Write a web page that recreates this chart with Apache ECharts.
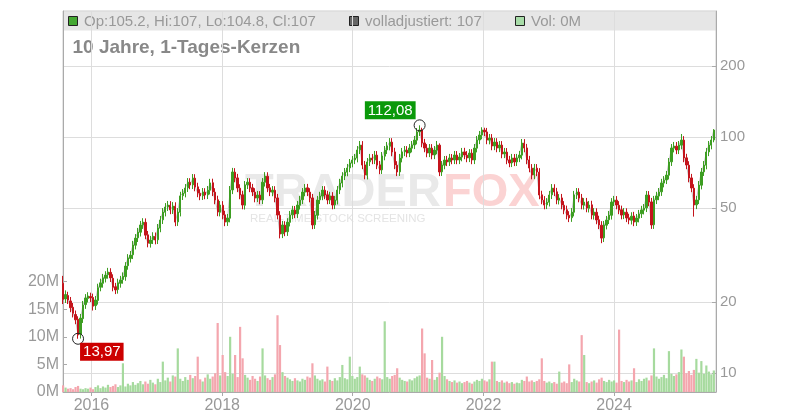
<!DOCTYPE html>
<html><head><meta charset="utf-8">
<script src="https://cdn.jsdelivr.net/npm/echarts@6/dist/echarts.min.js"></script>
<style>html,body{margin:0;padding:0;background:#fff}#c{width:800px;height:420px}</style>
</head><body><div id="c"></div>
<script>
// ---- data (2-week candles) ----
const startDate = Date.UTC(2015, 6, 26, 12);
const stepDays = 13.94;
const opens = [24.0,20.6,21.3,20.2,19.0,17.7,16.9,14.6,17.0,19.5,
20.7,21.1,20.9,19.3,20.3,23.1,24.0,25.2,26.1,26.7,
25.2,23.2,22.6,24.0,24.9,25.6,28.5,30.6,31.7,34.8,
37.4,39.5,42.5,43.5,38.5,35.4,36.7,37.9,36.7,41.1,
44.6,48.0,50.6,51.4,49.2,50.9,43.7,48.0,56.4,57.8,
60.9,64.3,62.7,66.9,61.5,57.8,56.4,58.4,56.9,59.5,
64.0,58.4,54.2,48.0,51.4,46.8,43.7,45.3,59.7,71.0,
67.1,60.7,56.9,51.4,62.7,64.3,60.9,58.4,55.2,56.7,
54.2,64.3,68.2,60.9,58.4,59.5,55.2,46.6,38.9,42.3,
39.7,43.5,46.8,49.0,47.3,51.4,54.2,58.4,60.9,58.4,
55.2,42.5,46.6,54.2,56.2,59.5,56.9,54.2,56.2,51.6,
54.0,59.7,63.8,68.4,71.0,74.0,77.5,80.0,81.4,88.2,
92.4,76.2,68.9,78.5,81.4,80.0,83.8,76.2,72.6,83.0,
88.2,91.5,95.1,86.5,76.0,71.2,81.4,86.5,88.0,85.6,
89.7,92.6,97.0,105.2,107.0,94.4,89.7,85.6,89.7,84.0,
88.0,92.4,71.2,76.0,80.0,78.5,81.4,80.0,83.8,80.0,
82.2,86.5,83.8,81.6,85.4,80.0,89.7,97.2,101.9,107.0,
105.1,97.0,98.9,91.7,95.1,89.9,92.4,84.8,86.3,80.0,
77.7,81.4,78.5,81.6,83.8,94.2,89.9,80.0,73.8,69.1,
73.8,71.0,56.9,54.0,51.6,52.9,56.9,60.7,58.6,54.0,
55.2,51.4,49.2,46.6,45.5,48.0,56.9,58.4,55.2,51.4,
53.1,49.9,51.6,46.6,48.0,44.6,42.3,37.4,42.3,44.6,
46.6,53.1,54.0,51.4,49.2,46.8,48.0,45.5,44.4,46.3,
43.7,45.3,47.3,49.0,50.1,56.7,53.1,42.5,54.2,56.2,
58.6,63.8,65.8,68.9,78.5,89.7,91.5,88.2,92.4,97.0,
81.6,76.0,67.1,60.7,51.6,54.2,62.5,71.2,76.0,86.5,
92.4,97.2];
const closes = [20.5,21.5,20.4,18.9,17.9,16.8,14.5,17.1,19.4,20.8,
21.2,20.8,19.2,20.4,23.0,24.1,25.3,26.0,26.8,25.3,
23.1,22.5,24.1,24.8,25.7,28.4,30.7,31.6,34.9,37.3,
39.6,42.4,43.6,38.4,35.5,36.6,38.0,36.6,41.2,44.5,
48.1,50.5,51.5,49.1,51.0,43.6,48.1,56.3,57.9,60.8,
64.4,62.6,67.0,61.4,57.9,56.3,58.5,56.8,59.6,63.9,
58.5,54.1,48.1,51.5,46.7,43.6,45.4,59.6,71.1,67.0,
60.8,56.8,51.5,62.6,64.4,60.8,58.5,55.1,56.8,54.1,
64.4,68.3,60.8,58.5,59.6,55.1,46.7,38.8,42.4,39.6,
43.6,46.7,49.1,47.2,51.5,54.1,58.5,60.8,58.5,55.1,
42.4,46.7,54.1,56.3,59.6,56.8,54.1,56.3,51.5,54.1,
59.6,63.9,68.3,71.1,73.9,77.6,79.9,81.5,88.1,92.5,
76.1,69.0,78.4,81.5,79.9,83.9,76.1,72.5,83.1,88.1,
91.6,95.2,86.4,76.1,71.1,81.5,86.4,88.1,85.5,89.8,
92.5,97.1,105.0,107.1,94.3,89.8,85.5,89.8,83.9,88.1,
92.5,71.1,76.1,79.9,78.4,81.5,79.9,83.9,79.9,82.3,
86.4,83.9,81.5,85.5,79.9,89.8,97.1,102.0,107.1,105.0,
97.1,99.0,91.6,95.2,89.8,92.5,84.7,86.4,79.9,77.6,
81.5,78.4,81.5,83.9,94.3,89.8,79.9,73.9,69.0,73.9,
71.1,56.8,54.1,51.5,53.0,56.8,60.8,58.5,54.1,55.1,
51.5,49.1,46.7,45.4,48.1,56.8,58.5,55.1,51.5,53.0,
50.0,51.5,46.7,48.1,44.5,42.4,37.3,42.4,44.5,46.7,
53.0,54.1,51.5,49.1,46.7,48.1,45.4,44.5,46.2,43.6,
45.4,47.2,49.1,50.0,56.8,53.0,42.4,54.1,56.3,58.5,
63.9,65.7,69.0,78.4,89.8,91.6,88.1,92.5,97.1,81.5,
76.1,67.0,60.8,51.5,54.1,62.6,71.1,76.1,86.4,92.5,
97.1,107.0];
const highs = [25.8,22.4,22.1,21.0,19.8,18.4,17.4,17.8,20.2,21.6,
22.0,21.9,21.7,21.2,23.9,25.1,26.3,27.0,27.9,27.8,
26.2,24.1,25.1,25.8,26.7,29.5,31.9,32.9,36.3,38.8,
41.2,44.1,45.3,45.2,40.0,38.1,39.5,39.4,42.8,46.3,
50.0,52.5,53.6,53.5,53.0,52.9,50.0,58.6,60.2,63.2,
67.0,66.9,69.7,69.6,64.0,60.1,60.8,60.7,62.0,66.5,
66.6,60.7,56.4,53.6,53.5,48.7,47.2,62.0,74.0,73.8,
69.8,63.1,59.2,65.1,67.0,66.9,63.3,60.7,59.1,59.0,
67.0,71.0,70.9,63.3,62.0,61.9,57.4,48.5,44.1,44.0,
45.3,48.6,51.1,51.0,53.6,56.3,60.8,63.2,63.3,60.7,
57.4,48.6,56.3,58.6,62.0,61.9,59.2,58.6,58.4,56.3,
62.0,66.5,71.0,73.9,76.9,80.7,83.1,84.8,91.6,96.2,
96.1,79.2,81.5,84.8,84.7,87.3,87.2,79.2,86.4,91.6,
95.3,99.0,98.9,90.0,79.0,84.8,89.9,91.6,91.5,93.4,
96.2,101.0,109.2,112.08,109.5,98.2,93.3,93.4,93.3,91.6,
96.2,94.0,79.1,83.1,83.2,84.8,84.7,87.3,87.2,85.6,
89.9,90.0,87.2,88.9,88.8,93.4,101.0,106.1,110.0,109.5,
109.3,103.0,102.9,99.0,98.9,96.2,96.1,89.9,89.8,83.2,
84.8,84.7,84.8,87.3,98.1,98.0,93.5,83.2,76.8,76.9,
76.8,73.8,59.2,56.2,55.1,59.1,63.2,63.1,60.9,57.3,
57.4,53.5,51.2,48.5,50.0,59.1,60.8,60.7,57.4,55.1,
55.2,53.6,53.7,50.0,49.9,46.4,44.0,44.1,46.3,48.6,
55.1,56.3,56.2,53.5,51.2,50.0,49.9,47.3,48.0,48.2,
47.2,49.1,51.1,52.0,59.1,59.0,55.2,56.3,58.6,60.8,
66.5,68.3,71.8,81.5,93.4,95.3,95.2,96.2,103.0,100.9,
84.9,79.0,69.8,63.1,56.3,65.1,73.9,79.1,89.9,96.2,
101.0,108.0];
const lows = [19.6,19.8,19.6,18.1,17.2,16.1,13.97,14.0,16.3,18.7,
19.9,20.0,18.4,18.5,19.5,22.2,23.0,24.2,25.1,24.3,
22.2,21.6,21.7,23.0,23.9,24.6,27.4,29.4,30.4,33.4,
35.9,37.9,40.8,36.9,34.1,34.0,35.2,35.1,35.2,39.5,
42.8,46.1,48.6,47.1,47.2,41.9,42.0,46.1,54.1,55.5,
58.5,60.1,60.2,58.9,55.6,54.0,54.1,54.5,54.6,57.1,
56.2,51.9,46.2,46.1,44.8,41.9,42.0,43.5,57.3,64.3,
58.4,54.5,49.4,49.3,60.2,58.4,56.2,52.9,53.0,51.9,
52.0,61.7,58.4,56.2,56.1,52.9,44.8,37.2,37.3,38.0,
38.1,41.8,44.9,45.3,45.4,49.3,52.0,56.1,56.2,52.9,
40.7,40.8,44.7,52.0,54.0,54.5,51.9,52.0,49.4,49.5,
51.8,57.3,61.2,65.7,68.2,71.0,74.4,76.8,78.1,84.7,
73.1,66.2,66.1,75.4,76.7,76.8,73.1,69.6,69.7,79.7,
84.7,87.8,82.9,73.1,68.3,68.4,78.1,83.0,82.1,82.2,
86.1,88.9,93.1,101.0,90.5,86.2,82.1,82.2,80.5,80.6,
84.5,68.3,68.4,73.0,75.3,75.4,76.7,76.8,76.7,76.8,
78.9,80.5,78.2,78.3,76.7,76.8,86.1,93.3,97.8,100.8,
93.2,93.1,87.9,88.0,86.2,86.3,81.3,81.4,76.7,74.5,
74.6,75.3,75.4,78.3,80.4,86.2,76.7,70.9,66.2,66.3,
68.3,54.5,51.9,49.4,49.5,50.8,54.6,56.2,51.9,51.8,
49.4,47.1,44.8,43.6,43.7,46.1,54.6,52.9,49.4,49.3,
48.0,47.9,44.8,44.7,42.7,40.7,35.5,35.9,40.6,42.8,
44.7,51.0,49.4,47.1,44.8,44.9,43.6,42.7,42.6,41.9,
42.0,43.5,45.4,47.0,48.1,50.9,40.8,40.8,52.0,54.0,
56.3,61.2,63.2,66.1,75.4,86.1,84.6,84.7,88.7,78.2,
73.1,64.3,58.4,46.0,49.5,52.0,60.0,68.4,73.0,83.0,
88.7,95.0];
const volumes = [1.2,0.8,0.6,0.7,0.5,0.9,1.1,0.6,0.5,0.7,
0.6,0.8,0.5,0.9,1.2,0.7,1.0,0.8,1.3,0.9,
1.1,1.4,0.9,1.2,5.2,1.0,1.5,1.2,1.8,1.3,
1.6,2.0,1.4,1.9,1.5,2.2,1.7,1.4,2.4,1.8,
5.5,2.1,2.6,1.9,3.0,2.8,7.9,2.4,2.0,2.7,
2.2,3.1,2.5,2.9,6.4,2.3,1.9,2.6,3.2,2.4,
2.8,3.4,12.5,3.0,6.7,3.6,2.9,10.0,3.3,6.7,
2.7,11.8,6.1,3.1,2.6,2.2,2.9,2.4,2.0,2.8,
7.9,3.0,2.5,2.2,2.7,3.2,13.9,8.5,3.6,2.9,
2.6,2.3,2.0,2.5,2.1,1.9,2.4,2.2,2.8,2.6,
5.2,3.0,2.4,2.1,2.3,1.9,4.6,2.2,2.0,2.5,
2.1,2.7,4.9,2.5,2.3,6.4,2.9,2.4,2.7,4.6,
3.2,3.0,2.6,2.2,2.0,2.4,2.8,2.5,2.3,12.8,
2.7,2.4,2.9,3.1,4.3,2.6,2.2,2.0,1.9,2.3,
2.1,2.5,2.8,3.0,11.5,7.0,2.6,2.4,5.8,2.2,
2.7,3.5,10.0,2.9,2.3,2.0,1.8,2.1,1.7,1.9,
1.6,1.8,2.0,1.7,1.5,1.9,2.2,2.0,2.4,2.1,
1.9,2.3,5.5,5.5,2.0,1.8,2.1,1.7,1.9,1.6,
1.8,1.5,1.7,1.6,2.2,2.0,2.8,1.9,2.1,1.8,
2.0,2.3,6.1,2.0,1.7,1.9,1.6,1.8,1.5,3.7,
1.7,1.9,1.6,5.0,1.8,2.4,2.1,1.9,10.3,6.7,
1.8,1.6,1.9,2.1,1.7,2.3,2.6,2.0,1.8,2.2,
1.9,2.1,1.7,11.3,2.0,1.8,2.2,1.9,2.1,4.3,
1.8,2.3,2.0,2.4,2.6,2.1,3.0,7.9,2.8,2.4,
2.7,3.1,2.5,7.4,3.3,2.9,3.2,3.6,7.7,6.4,
3.4,3.8,3.1,4.0,6.0,3.5,5.6,3.3,4.8,3.7,
3.2,3.9];
const yearTicks = [Date.UTC(2016,0,1), Date.UTC(2018,0,1), Date.UTC(2020,0,1), Date.UTC(2022,0,1), Date.UTC(2024,0,1)];
const priceTicks = [10, 20, 50, 100, 200];
const volTicks = [0, 5, 10, 15, 20];
const headerTexts = ['Op:105.2, Hi:107, Lo:104.8, Cl:107', 'volladjustiert: 107', 'Vol: 0M'];
const titleText = '10 Jahre, 1-Tages-Kerzen';

// ---- build ----
const FONT = 'Liberation Sans, Arial, sans-serif';
const UP = '#3d9e22', DOWN = '#c4141c';
const dates = closes.map((_, i) => startDate + i * stepDays * 86400000);
const candles = closes.map((c, i) => [dates[i], opens[i], c, lows[i], highs[i]]);
const closeLine = closes.map((c, i) => [dates[i], c]);
const volData = volumes.map((v, i) => ({
  value: [dates[i], v],
  itemStyle: { color: closes[i] >= opens[i] ? '#a6da9e' : '#f4a6ae' }
}));
let hiIdx = 0, loIdx = 0;
highs.forEach((h, i) => { if (h > highs[hiIdx]) hiIdx = i; });
lows.forEach((l, i) => { if (l < lows[loIdx]) loIdx = i; });
const fmt = v => v.toFixed(2).replace('.', ',');

const chart = echarts.init(document.getElementById('c'), null, { renderer: 'canvas' });
chart.setOption({
  animation: false,
  textStyle: { fontFamily: FONT },
  grid: { left: 63, right: 84, top: 11, bottom: 28, show: true, borderColor: '#cccccc', borderWidth: 1 },
  xAxis: {
    type: 'value',
    min: Date.UTC(2015, 6, 26),
    max: Date.UTC(2025, 6, 24),
    axisLine: { show: true, onZero: false, lineStyle: { color: '#aaaaaa' } },
    axisTick: { show: true, length: 4, customValues: yearTicks, lineStyle: { color: '#aaaaaa' } },
    axisLabel: { customValues: yearTicks, formatter: v => String(new Date(v).getUTCFullYear()),
      color: '#999999', fontSize: 16, margin: 6, fontFamily: FONT },
    splitLine: { show: true, lineStyle: { color: '#dddddd', width: 1 } }
  },
  yAxis: [
    {
      type: 'log', logBase: 10, position: 'right', min: 8.31, max: 342,
      axisLine: { show: true, lineStyle: { color: '#aaaaaa' } },
      axisTick: { show: true, inside: true, length: 4, customValues: priceTicks, lineStyle: { color: '#aaaaaa' } },
      axisLabel: { customValues: priceTicks, color: '#999999', fontSize: 15, margin: 4, fontFamily: FONT },
      splitLine: { show: true, lineStyle: { color: '#dddddd', width: 1 } }
    },
    {
      type: 'value', position: 'left', min: 0, max: 69,
      axisLine: { show: true, lineStyle: { color: '#aaaaaa' } },
      axisTick: { show: true, inside: true, length: 4, customValues: volTicks, lineStyle: { color: '#aaaaaa' } },
      axisLabel: { customValues: volTicks, formatter: v => v + 'M', color: '#999999', fontSize: 16, margin: 4, fontFamily: FONT },
      splitLine: { show: false }
    }
  ],
  graphic: [
    { type: 'rect', z: -1, silent: true, shape: { x: 63.5, y: 11.5, width: 652.5, height: 19 }, style: { fill: '#e6e6e6' } },
    { type: 'text', z: -1, silent: true, x: 245, y: 193, style: { text: 'TRADER', fill: '#e9e9e9', font: 'bold 47px ' + FONT, verticalAlign: 'middle' } },
    { type: 'text', z: -1, silent: true, x: 443, y: 193, style: { text: 'FOX', fill: '#fbd3d3', font: 'bold 47px ' + FONT, verticalAlign: 'middle' } },
    { type: 'text', z: -1, silent: true, x: 250, y: 218.5, style: { text: 'REAL-TIME STOCK SCREENING', fill: '#e4e4e4', font: '11.5px ' + FONT, verticalAlign: 'middle' } },
    { type: 'rect', shape: { x: 68.5, y: 16.5, width: 9, height: 9 }, style: { fill: '#44a832', stroke: '#222', lineWidth: 1 } },
    { type: 'text', x: 84, y: 21.5, style: { text: headerTexts[0], fill: '#999999', font: '15px ' + FONT, verticalAlign: 'middle' } },
    { type: 'rect', shape: { x: 349.5, y: 16.5, width: 9, height: 9 }, style: { fill: '#666666', stroke: '#222', lineWidth: 1 } },
    { type: 'text', x: 365, y: 21.5, style: { text: headerTexts[1], fill: '#999999', font: '15px ' + FONT, verticalAlign: 'middle' } },
    { type: 'rect', shape: { x: 515.5, y: 16.5, width: 9, height: 9 }, style: { fill: '#a8dca8', stroke: '#222', lineWidth: 1 } },
    { type: 'text', x: 531, y: 21.5, style: { text: headerTexts[2], fill: '#999999', font: '15px ' + FONT, verticalAlign: 'middle' } },
    { type: 'text', x: 72.5, y: 47.5, style: { text: titleText, fill: '#888888', font: 'bold 19px ' + FONT, verticalAlign: 'middle' } }
  ],
  series: [
    { type: 'bar', yAxisIndex: 1, data: volData, barWidth: 2.2, barGap: '0%', silent: true, z: 1 },
    { type: 'line', yAxisIndex: 0, data: closeLine, symbol: 'none', silent: true, z: 2,
      lineStyle: { color: '#c4c4c4', width: 1 } },
    { type: 'candlestick', yAxisIndex: 0, data: candles, barWidth: 1.8, silent: true, z: 3,
      itemStyle: { color: UP, color0: DOWN, borderColor: UP, borderColor0: DOWN, borderWidth: 1 } },
    { type: 'scatter', yAxisIndex: 0, silent: true, z: 10, symbol: 'circle', symbolSize: 11,
      itemStyle: { color: 'rgba(0,0,0,0)', borderColor: '#222', borderWidth: 1, opacity: 1 },
      data: [
        { value: [dates[hiIdx], highs[hiIdx]],
          label: { show: true, formatter: fmt(highs[hiIdx]), position: [2, 0], align: 'right', verticalAlign: 'bottom',
            color: '#fff', backgroundColor: '#0a990a', fontSize: 15, padding: [2, 3, 1, 3], fontFamily: FONT } },
        { value: [dates[loIdx], lows[loIdx]],
          label: { show: true, formatter: fmt(lows[loIdx]), position: [8, 10], align: 'left', verticalAlign: 'top',
            color: '#fff', backgroundColor: '#cc0000', fontSize: 15, padding: [2, 3, 1, 3], fontFamily: FONT } }
      ] }
  ]
});
</script></body></html>
